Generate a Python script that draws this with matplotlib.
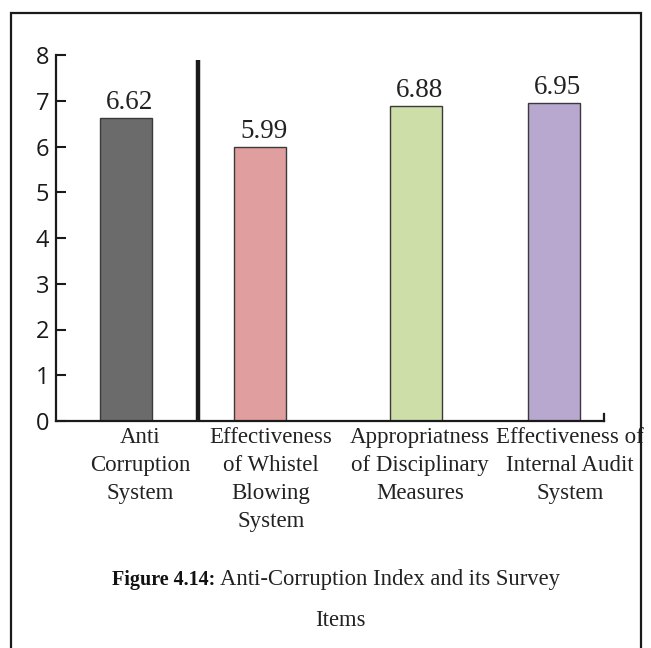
import numpy as np
import matplotlib.pyplot as plt
from matplotlib.patches import Rectangle

categories = ["Anti\nCorruption\nSystem",
              "Effectiveness\nof Whistel\nBlowing\nSystem",
              "Appropriatness\nof Disciplinary\nMeasures",
              "Effectiveness of\nInternal Audit\nSystem"]
scores = [6.62, 5.99, 6.88, 6.95]
colors = ["#6b6b6b", "#e09e9e", "#cddea8", "#b8a7cf"]

# layout in pixel offsets from the y axis
bar_x = [70, 203.5, 359.5, 497.5]
label_x = [84, 215, 364, 514]
W, H = 651, 648

fig = plt.figure(figsize=(W / 100, H / 100), dpi=100)
ax = fig.add_axes([56 / W, (H - 421) / H, 548 / W, 366 / H])

serif = "Liberation Serif"
sans = "Open Sans"

ax.bar(bar_x, scores, width=52, color=colors, edgecolor="#3a3a3a", linewidth=1.0, zorder=2)
for x, v in zip(bar_x, scores):
    ax.text(x + 4, v + 0.06, f"{v:.2f}", ha="center", va="bottom", fontsize=19.5, family=serif, color="#222222")

# divider between the index and its survey items
ax.plot([142, 142], [0, 7.89], color="#1a1a1a", lw=3.2, solid_capstyle="butt", zorder=3)

ax.set_xlim(0, 548)
ax.set_ylim(0, 8)
ax.set_yticks(range(0, 9))
ax.set_yticklabels([str(i) for i in range(0, 9)], family=sans, fontsize=17)
ax.tick_params(axis="y", direction="in", length=7, width=1.5, pad=5, colors="#1a1a1a")
ax.set_xticks(label_x)
ax.set_xticklabels(categories, family=serif, fontsize=16.5, linespacing=1.44, color="#222222")
ax.tick_params(axis="x", length=0, pad=4)

for s in ["top", "right"]:
    ax.spines[s].set_visible(False)
for s in ["left", "bottom"]:
    ax.spines[s].set_linewidth(1.6)
    ax.spines[s].set_color("#1a1a1a")
# small end mark on the x axis
ax.plot([548, 548], [0, 0.15], color="#1a1a1a", lw=1.6, clip_on=False)

# outer frame
fig.patches.append(Rectangle((11 / W, -0.02), 630 / W, 1 - 13 / H + 0.02, transform=fig.transFigure,
                             fill=False, edgecolor="#1a1a1a", linewidth=1.6))

# caption: bold figure number followed by the title
fig_no = fig.text(112 / W, 1 - 580 / H, "Figure 4.14:", fontsize=14.5, family=serif, weight="bold",
                  va="center", ha="left", color="#111111")
fig.canvas.draw()
fig_no_box = fig_no.get_window_extent()
fig.text((fig_no_box.x1 + 5) / W, 1 - 580 / H, "Anti-Corruption Index and its Survey", fontsize=16.3,
         family=serif, va="center", ha="left", color="#222222")
fig.text(340 / W, 1 - 620 / H, "Items", fontsize=16.3, family=serif, va="center", ha="center", color="#222222")

fig.savefig("out.png", dpi=100)
